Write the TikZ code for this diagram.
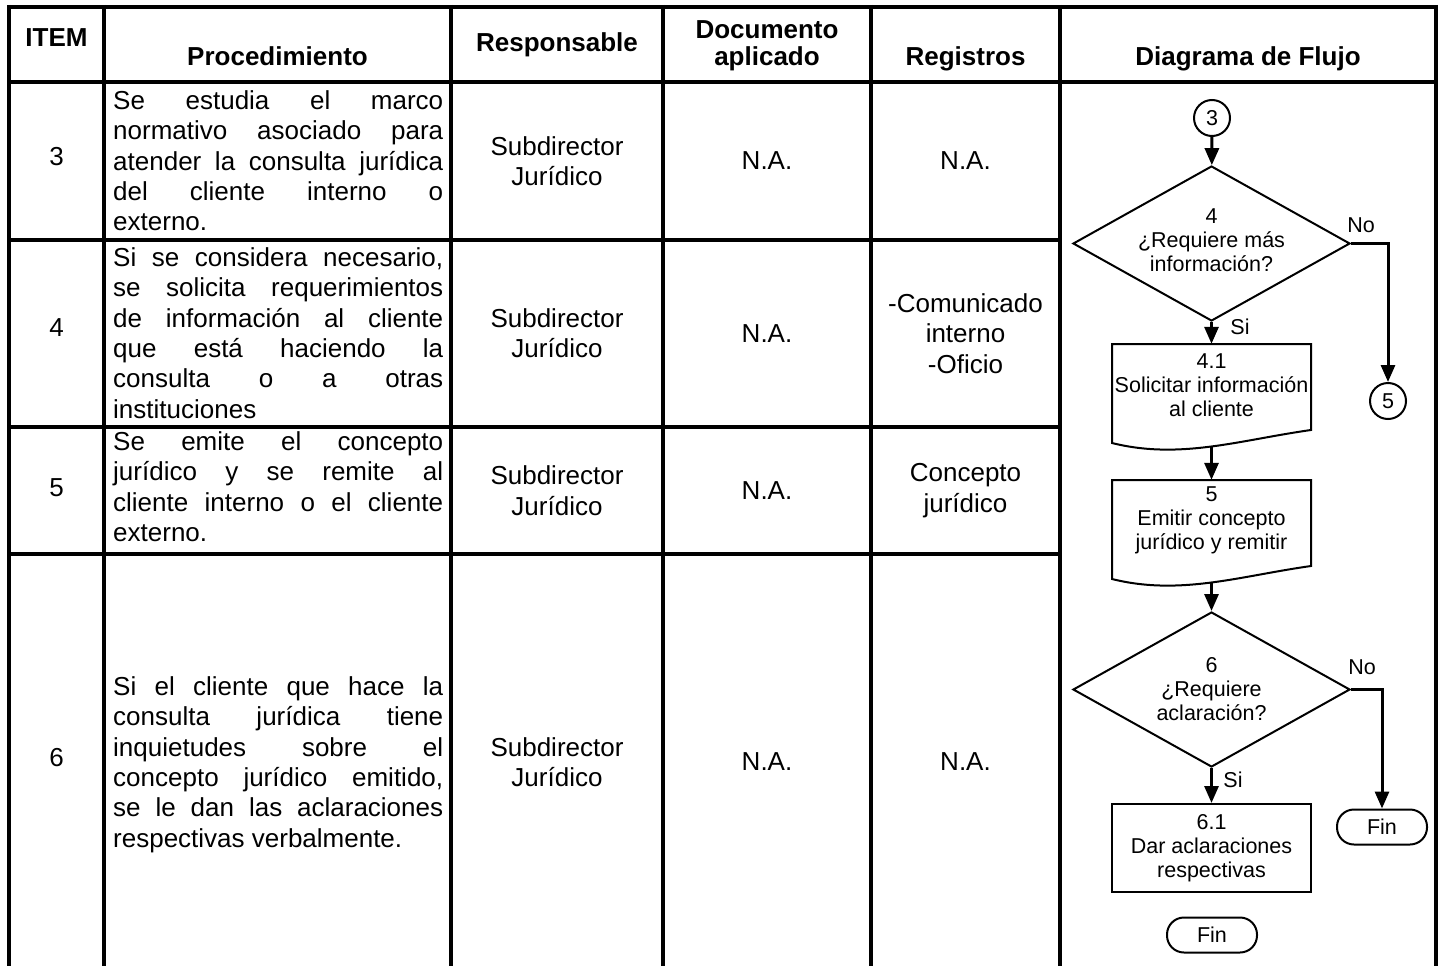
\documentclass[tikz,border=0pt]{standalone}
\usepackage{fontspec}
\setmainfont{Liberation Sans}
\usetikzlibrary{shapes.geometric,arrows.meta}
\newcommand{\mystrut}{\rule[-8.4pt]{0pt}{30.4pt}}
\newcommand{\jline}[1]{\makebox[330pt][s]{\mystrut #1}}
\newcommand{\lastline}[1]{\makebox[330pt][l]{\mystrut #1}}
\begin{document}
\begin{tikzpicture}[x=1pt,y=-1pt,
  grid/.style={line width=4pt},
  body/.style={font=\fontsize{26pt}{30.4pt}\selectfont, inner sep=0pt},
  head/.style={font=\fontsize{26pt}{30.4pt}\selectfont\bfseries, inner sep=0pt, anchor=base},
  proc/.style={body, align=left, anchor=north west},
  cell/.style={body, align=center, anchor=center},
  fc/.style={font=\fontsize{21.5pt}{24pt}\selectfont, inner sep=0pt},
  dec/.style={shape=diamond, draw, line width=2pt, inner sep=0pt, minimum width=277pt, minimum height=155pt},
  conn/.style={fc, circle, draw, line width=2pt, minimum size=36pt},
  term/.style={fc, rectangle, rounded corners=17pt, draw, line width=2pt, minimum width=90pt, minimum height=35pt},
  procbox/.style={fc, rectangle, draw, line width=2pt, minimum width=199pt, minimum height=88pt, align=center},
  docarea/.style={rectangle, inner sep=0pt, minimum width=199pt, minimum height=103pt},
  docline/.style={line width=2pt, line join=miter},
  arr/.style={line width=3pt, -{Triangle[length=17pt,width=14pt]}}
]
\useasboundingbox (0,0) rectangle (1442,966);
\fill[white] (0,0) rectangle (1442,966);

% table grid
\draw[grid] (7,7) -- (1438,7);
\draw[grid] (7,82) -- (1438,82);
\draw[grid] (9,240) -- (1060,240);
\draw[grid] (9,427) -- (1060,427);
\draw[grid] (9,554) -- (1060,554);
\foreach \xx in {9,104,451,663,871,1060,1436} {
  \draw[grid] (\xx,5) -- (\xx,966);
}

% header
\node[head] (hItem) at (56.5,47) {ITEM};
\node[head] (hProc) at (277.5,66) {Procedimiento};
\node[head] (hResp) at (557,52) {Responsable};
\node[head] (hDocA) at (767,39) {Documento};
\node[head] (hDocB) at (767,66) {aplicado};
\node[head] (hReg) at (965.5,66) {Registros};
\node[head] (hDia) at (1248,66) {Diagrama de Flujo};

% item numbers
\node[cell] (i3) at (56.5,157) {3};
\node[cell] (i4) at (56.5,328) {4};
\node[cell] (i5) at (56.5,488) {5};
\node[cell] (i6) at (56.5,758) {6};

% procedures
\node[proc] (p3) at (113,87) {\jline{Se estudia el marco}\\\jline{normativo asociado para}\\\jline{atender la consulta jurídica}\\\jline{del cliente interno o}\\\lastline{externo.}};
\node[proc] (p4) at (113,244) {\jline{Si se considera necesario,}\\\jline{se solicita requerimientos}\\\jline{de información al cliente}\\\jline{que está haciendo la}\\\jline{consulta o a otras}\\\lastline{instituciones}};
\node[proc] (p5) at (113,428) {\jline{Se emite el concepto}\\\jline{jurídico y se remite al}\\\jline{cliente interno o el cliente}\\\lastline{externo.}};
\node[proc] (p6) at (113,673) {\jline{Si el cliente que hace la}\\\jline{consulta jurídica tiene}\\\jline{inquietudes sobre el}\\\jline{concepto jurídico emitido,}\\\jline{se le dan las aclaraciones}\\\lastline{respectivas verbalmente.}};

% responsable
\node[cell] (r3) at (557,161) {Subdirector\\Jurídico};
\node[cell] (r4) at (557,333.5) {Subdirector\\Jurídico};
\node[cell] (r5) at (557,490.5) {Subdirector\\Jurídico};
\node[cell] (r6) at (557,762) {Subdirector\\Jurídico};

% documento aplicado
\node[cell] (a3) at (767,161) {N.A.};
\node[cell] (a4) at (767,333.5) {N.A.};
\node[cell] (a5) at (767,490.5) {N.A.};
\node[cell] (a6) at (767,762) {N.A.};

% registros
\node[cell] (g3) at (965.5,161) {N.A.};
\node[cell] (g4) at (965.5,333.5) {-Comunicado\\interno\\-Oficio};
\node[cell] (g5) at (965.5,490.5) {Concepto\\jurídico};
\node[cell] (g6) at (965.5,762) {N.A.};

% flowchart
\node[conn] (c3) at (1212,118) {3};
\node[dec] (d4) at (1211.5,243.5) {};
\node[fc, align=center] (d4t) at (1211.5,240) {4\\¿Requiere más\\información?};
\node[fc] (no1) at (1361,225) {No};
\node[fc] (si1) at (1240,327) {Si};
\node[conn] (c5) at (1388,401) {5};

\node[docarea] (n41) at (1211.5,395.5) {};
\draw[docline] (1112,344) -- (1311,344) -- (1311,430) .. controls (1240,440) and (1180,460) .. (1112,443) -- cycle;
\node[fc, align=center] (n41t) at (1211.5,385) {4.1\\Solicitar información\\al cliente};

\node[docarea] (n5) at (1211.5,531.5) {};
\draw[docline] (1112,480) -- (1311,480) -- (1311,566) .. controls (1240,576) and (1180,596) .. (1112,579) -- cycle;
\node[fc, align=center] (n5t) at (1211.5,520) {5\\Emitir concepto\\jurídico y remitir};

\node[dec] (d6) at (1211.5,689.5) {};
\node[fc, align=center] (d6t) at (1211.5,689) {6\\¿Requiere\\aclaración?};
\node[fc] (no2) at (1362,667) {No};
\node[fc] (si2) at (1233,780) {Si};

\node[procbox] (n61) at (1211.5,848) {6.1\\Dar aclaraciones\\respectivas};
\node[term] (fin1) at (1382,827) {Fin};
\node[term] (fin2) at (1212,935) {Fin};

\draw[arr] (c3) -- (d4);
\draw[arr] (d4.south) -- (n41.north);
\draw[arr] (d4.east) -| (c5);
\draw[arr] (n41.south) -- (n5.north);
\draw[arr] (n5.south) -- (d6.north);
\draw[arr] (d6.south) -- (n61.north);
\draw[arr] (d6.east) -| (fin1);
\end{tikzpicture}
\end{document}
